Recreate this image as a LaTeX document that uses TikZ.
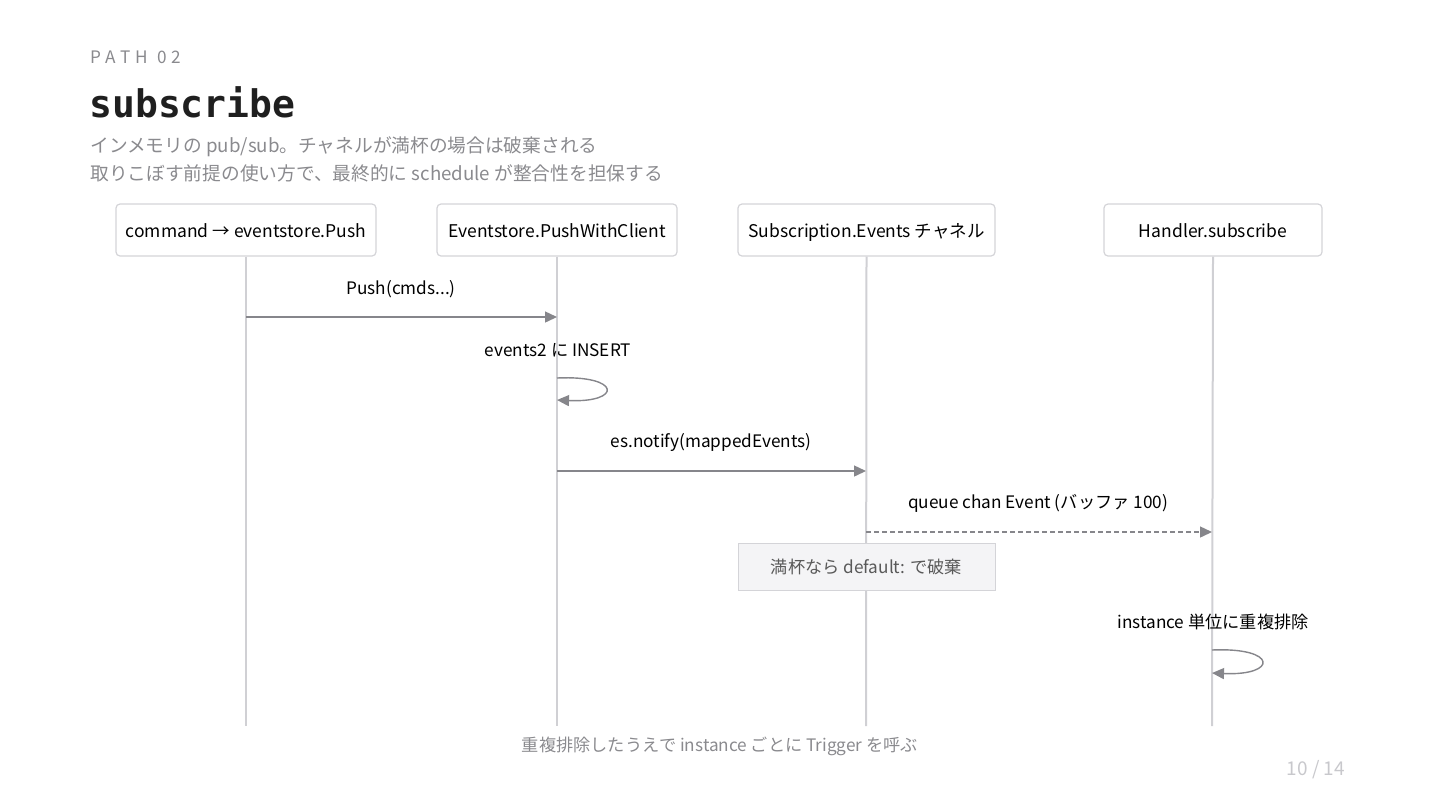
\documentclass[tikz,border=0pt]{standalone}
\usepackage{fontspec}
\setmainfont{Noto Sans CJK JP}
\newfontfamily\titlefont{DejaVu Sans Mono}
\newfontfamily\kickerfont[LetterSpace=30]{Noto Sans CJK JP}
\usetikzlibrary{arrows.meta}

\definecolor{boxgray}{HTML}{D4D4D8}
\definecolor{lifegray}{HTML}{D0D0D4}
\definecolor{arrowgray}{HTML}{86868B}
\definecolor{textgray}{HTML}{8A8A8E}
\definecolor{notefill}{HTML}{F4F4F6}
\definecolor{pagegray}{HTML}{C8C8CC}

\begin{document}
\begin{tikzpicture}[x=0.5pt, y=-0.5pt,
  actor/.style = {draw=boxgray, line width=0.6pt, rounded corners=2pt, fill=white,
    minimum height=26pt, inner sep=0pt, text height=8.1pt, text depth=0.5pt,
    font=\fontsize{8.75}{11}\selectfont},
  life/.style = {draw=lifegray, line width=1pt},
  msg/.style = {draw=arrowgray, line width=0.7pt, -{Triangle[length=6pt, width=5.5pt]}},
  lbl/.style = {font=\fontsize{8.6}{10}\selectfont, inner sep=0pt}]
\useasboundingbox (0,0) rectangle (1440,810);

% heading
\node[anchor=base west, inner sep=0pt, text=textgray, font=\kickerfont\fontsize{8.6}{10}\selectfont] (kicker) at (90,63) {PATH 02};
\node[anchor=base west, inner sep=0pt, font=\titlefont\bfseries\fontsize{19}{22}\selectfont, text=black!88] (title) at (89,117) {subscribe};
\node[anchor=base west, inner sep=0pt, text=textgray, font=\fontsize{9.35}{11}\selectfont] (sub1) at (90,152) {インメモリの pub/sub。チャネルが満杯の場合は破棄される};
\node[anchor=base west, inner sep=0pt, text=textgray, font=\fontsize{9.35}{11}\selectfont] (sub2) at (90,180) {取りこぼす前提の使い方で、最終的に schedule が整合性を担保する};

% participants
\node[actor, minimum width=130pt] (cmd) at (246,230) {command → eventstore.Push};
\node[actor, minimum width=120pt] (store) at (557,230) {Eventstore.PushWithClient};
\node[actor, minimum width=128.5pt] (chan) at (866.5,230) {Subscription.Events チャネル};
\node[actor, minimum width=109pt] (handler) at (1213,230) {Handler.subscribe};

% lifelines
\coordinate (cmdEnd) at (246,726);
\coordinate (storeEnd) at (557,726);
\coordinate (chanEnd) at (866,726);
\coordinate (handlerEnd) at (1212,726);
\draw[life] (cmd.south) -- (cmdEnd);
\draw[life] (store.south) -- (storeEnd);
\draw[life] (chan.south) -- (chanEnd);
\draw[life] (handler.south) -- (handlerEnd);

% messages
\coordinate (pushFrom) at (246,317);
\coordinate (pushTo) at (557,317);
\node[lbl] (pushLbl) at (401,289) {Push(cmds...)};
\draw[msg] (pushFrom) -- (pushTo);

\coordinate (insFrom) at (557,378);
\coordinate (insTo) at (557,400);
\node[lbl] (insLbl) at (558,350) {events2 に INSERT};
\draw[msg] (insFrom) .. controls (622,375) and (622,403) .. (insTo);

\coordinate (notifyFrom) at (557,471);
\coordinate (notifyTo) at (866,471);
\node[lbl] (notifyLbl) at (711,442) {es.notify(mappedEvents)};
\draw[msg] (notifyFrom) -- (notifyTo);

\coordinate (queueFrom) at (866,532);
\coordinate (queueTo) at (1212,532);
\node[lbl] (queueLbl) at (1038,503) {queue chan Event (バッファ 100)};
\draw[msg, dash pattern=on 2.5pt off 1.5pt] (queueFrom) -- (queueTo);

\node[draw=boxgray, line width=0.5pt, fill=notefill, minimum width=128.5pt, minimum height=23.5pt,
  inner sep=0pt, text=black!65, font=\fontsize{8.6}{10}\selectfont] (note) at (866.5,566.5) {満杯なら default: で破棄};

\coordinate (dedupFrom) at (1212,650);
\coordinate (dedupTo) at (1212,673);
\node[lbl] (dedupLbl) at (1213,622) {instance 単位に重複排除};
\draw[msg] (dedupFrom) .. controls (1278,647) and (1278,676) .. (dedupTo);

% footer
\node[text=textgray, inner sep=0pt, font=\fontsize{8.6}{10}\selectfont] (caption) at (720,746) {重複排除したうえで instance ごとに Trigger を呼ぶ};
\node[text=pagegray, inner sep=0pt, font=\fontsize{9.5}{10}\selectfont] (page) at (1316,770) {10 / 14};
\end{tikzpicture}
\end{document}
